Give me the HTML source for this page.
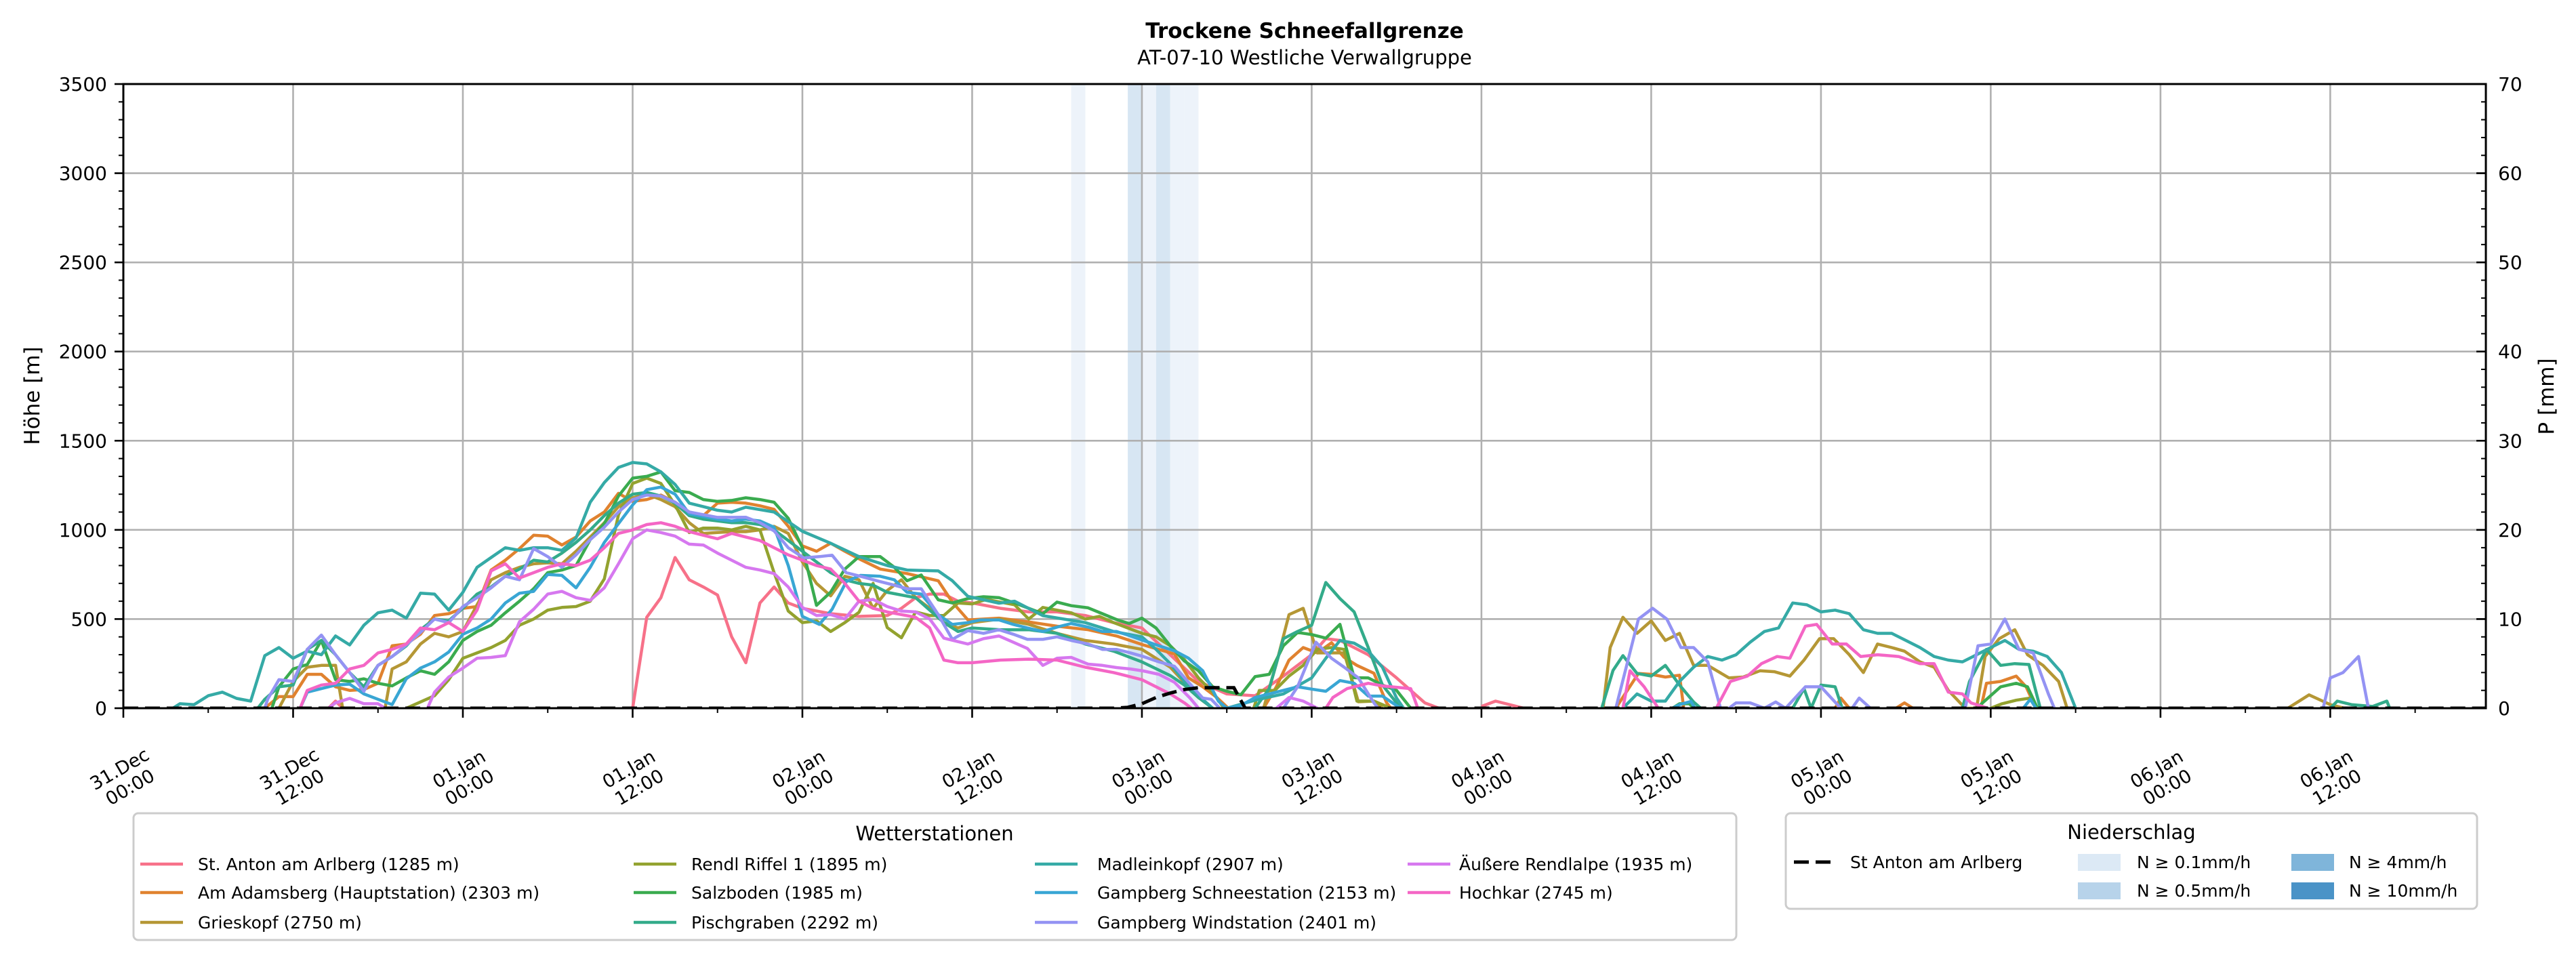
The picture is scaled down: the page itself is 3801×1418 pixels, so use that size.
<!DOCTYPE html>
<html><head><meta charset="utf-8"><style>
html,body{margin:0;padding:0;background:#fff;}
svg{display:block;font-family:"DejaVu Sans","Liberation Sans",sans-serif;}
</style></head><body>
<svg id="chart" width="3801" height="1418" viewBox="0 0 3801 1418" xmlns="http://www.w3.org/2000/svg">
<rect x="0" y="0" width="3801" height="1418" fill="#fff"/>
<g id="bands"></g>
<g id="grid"></g>
<g id="series"></g>
<g id="axes"></g>
<text x="1925" y="56" font-size="31" font-weight="bold" text-anchor="middle">Trockene Schneefallgrenze</text>
<text x="1925" y="95" font-size="29" text-anchor="middle">AT-07-10 Westliche Verwallgruppe</text>
<text transform="translate(58,584) rotate(-90)" font-size="31" text-anchor="middle">Höhe [m]</text>
<text transform="translate(3768,585) rotate(-90)" font-size="31" text-anchor="middle">P [mm]</text>
<g id="legend1"></g>
<g id="legend2"></g>
</svg>
<script>
const xTickHours = [0,12,24,36,48,60,72,84,96,108,120,132,144,156];
const xTickLabels1 = ["31.Dec","31.Dec","01.Jan","01.Jan","02.Jan","02.Jan","03.Jan","03.Jan","04.Jan","04.Jan","05.Jan","05.Jan","06.Jan","06.Jan"];
const xTickLabels2 = ["00:00","12:00","00:00","12:00","00:00","12:00","00:00","12:00","00:00","12:00","00:00","12:00","00:00","12:00"];
const yTicks = [0,500,1000,1500,2000,2500,3000,3500];
const y2Ticks = [0,10,20,30,40,50,60,70];
const precipBandHours = [67,71,72,73,74,75];
const precipBandIntensity = [0.1,0.5,0.1,0.5,0.1,0.1];
const precipCum = [[0,0],[70,0],[71,0.1],[72,0.5],[73,1.2],[74,1.7],[75,2.1],[76,2.3],[78.5,2.3],[79.3,0],[167,0]];

const stAnton = [[14.5,0],[15,40],[15.5,0],null,[36,0],[37,510],[38,620],[39,845],[40,720],[41,680],[42,635],[43,400],[44,255],[45,590],[46,680],[47,590],[48,560],[50,530],[52,515],[54,520],[55,560],[56,620],[57,640],[58,640],[59,600],[60,590],[62,560],[64,540],[66,540],[68,520],[70,480],[72,450],[74,300],[76,150],[78,80],[80,70],[82,180],[84,300],[85,390],[86,380],[88,300],[90,170],[92,30],[93,0],null,[96,10],[97,40],[99,0]];
const adamsberg = [[10,0],[11,65],[12,65],[13,190],[14,190],[15,120],[16,100],[17,105],[18,140],[19,350],[20,360],[21,415],[22,520],[23,530],[24,560],[25,570],[26,775],[27,830],[28,895],[29,970],[30,965],[31,915],[32,960],[33,1050],[34,1100],[35,1205],[36,1160],[37,1170],[38,1195],[39,1155],[40,1100],[41,1080],[42,1150],[43,1155],[44,1150],[45,1135],[46,1115],[47,1020],[48,910],[49,880],[50,925],[51,880],[52,838],[53.5,780],[55.4,755],[57.6,715],[58.6,595],[59.7,495],[61.9,505],[63.9,485],[66,460],[68.2,440],[70.2,405],[72.1,355],[74.3,304],[75.3,170],[76.3,120],[77.3,60],[78.1,0],null,[80.6,0],[81.5,120],[82.4,270],[83.4,340],[84.4,310],[85.4,367],[86.3,285],[87.2,240],[88.4,196],[89.3,30],[89.6,0],null,[105.5,0],[106,62],[107.1,195],[108,190],[109,175],[110,185],[110.3,0],null,[121,0],[121.4,57],[122,0],null,[125.3,0],[125.9,30],[126.5,0],null,[131.3,0],[131.7,140],[132.7,150],[133.8,180],[134.5,120],[135.2,0]];
const grieskopf = [[11,0],[12,150],[13,230],[14,240],[15,240],[15.5,0],null,[18.5,0],[19,220],[20,260],[21,360],[22,420],[23,400],[24,430],[25,580],[26,720],[27,760],[28,790],[29,810],[30,815],[31,810],[32,880],[33,960],[34,1040],[35,1130],[36,1180],[37,1200],[38,1170],[39,1130],[40,1040],[41,980],[42,985],[43,990],[44,990],[45,1000],[46,1020],[47,980],[48,820],[49,700],[50,630],[51,740],[52,720],[53,560],[54,660],[55,720],[56,620],[57,560],[58,480],[59,450],[60,480],[62,500],[64,470],[66,420],[68,380],[70,360],[72,330],[74,230],[76,60],[77,0],null,[80.6,0],[81.5,250],[82.4,525],[83.4,560],[84.4,310],[85.4,310],[86.3,310],[87.3,36],[88.4,40],[89,0],null,[104.6,0],[105.1,340],[106,510],[107,420],[108,490],[109,380],[110,420],[111,240],[112,240],[113.5,170],[114.5,175],[115.7,210],[116.7,205],[117.8,180],[118.8,270],[119.9,390],[120.9,390],[122,300],[123,200],[124,360],[125,340],[125.9,320],[127,260],[128,230],[129,100],[130.2,0],[131,0],[131.6,290],[132.6,390],[133.7,440],[134.6,300],[135.7,240],[136.8,150],[137.4,0],null,[153,0],[154.5,75],[156,20],[157,0]];
const rendl = [[20,0],[22,70],[23,160],[24,280],[25,310],[26,340],[27,380],[28,465],[29,500],[30,550],[31,565],[32,570],[33,600],[34,725],[35,1085],[36,1260],[37,1290],[38,1260],[39,1140],[40,985],[41,1010],[42,1010],[43,1000],[44,1020],[45,1000],[46,760],[47,545],[48,480],[49,490],[50,430],[51,480],[52,538],[53,700],[54,452],[55,395],[56,540],[57,520],[58,520],[59,590],[60,585],[61,610],[62,595],[63,580],[64,500],[65,565],[66,550],[67,535],[68,500],[69,515],[70,480],[71,450],[72,420],[73,400],[74,350],[75,273],[76,170],[77,90],[77.8,0],null,[79.9,0],[80.3,100],[81.4,100],[82.4,180],[83.4,240],[84.4,330],[85.4,340],[86.3,330],[87.2,40],[88.4,40],[89,20],[89.6,0],null,[132,0],[132.8,25],[133.8,45],[134.8,57],[135.3,0]];
const salzboden = [[10.5,0],[11,120],[12,220],[13,245],[14,380],[15,160],[16,150],[17,165],[18,140],[19,125],[20,170],[21,210],[22,190],[23,260],[24,380],[25,430],[26,465],[27,535],[28,600],[29,670],[30,760],[31,775],[32,800],[33,945],[34,1035],[35,1190],[36,1290],[37,1300],[38,1325],[39,1220],[40,1210],[41,1170],[42,1160],[43,1165],[44,1180],[45,1170],[46,1155],[47,1065],[48,900],[49,577],[50,651],[51,780],[52,850],[53.5,850],[54.5,790],[55.4,715],[56.4,747],[57.6,608],[58.6,590],[59.7,615],[60.8,625],[61.9,620],[63,590],[64,560],[65,530],[66,595],[67,575],[68.2,563],[69.2,530],[70.3,494],[71.1,475],[72,505],[73,450],[74,350],[75,265],[76,210],[77,120],[78,95],[79,76],[80,177],[81,190],[82,350],[83,425],[84,413],[85,393],[86,470],[87,171],[88,170],[89,130],[90,100],[91,0],null,[109.5,0],[110,25],[110.7,25],[111,0],null,[131,0],[132.7,120],[133.8,140],[134.6,120],[135.3,0]];
const pischgraben = [[9.5,0],[10,50],[11,120],[12,130],[13,330],[14,380],[15,300],[16,200],[17,120],[18,240],[19,290],[20,350],[21,440],[22,500],[23,490],[24,560],[25,640],[26,680],[27,740],[28,780],[29,830],[30,820],[31,870],[32,930],[33,1000],[34,1080],[35,1150],[36,1200],[37,1210],[38,1190],[39,1150],[40,1080],[41,1060],[42,1050],[43,1040],[44,1040],[45,1030],[46,1000],[47,940],[48,880],[49,820],[50,760],[51,720],[52,700],[53,690],[54,650],[56,620],[58,480],[59,430],[60,450],[62,440],[64,440],[66,420],[68,360],[70,320],[72,260],[74,183],[75,130],[76,60],[77,0],null,[80,0],[81,110],[82,390],[83,430],[84,465],[85,705],[86,615],[87,540],[88,340],[89,130],[90,30],[90.5,0],null,[104.5,0],[105.3,212],[106,295],[107,195],[108,180],[109,240],[110,130],[111,35],[111.5,0],null,[118,0],[118.8,110],[119.3,0],[120,130],[121,120],[121.5,0],null,[130,0],[130.5,150],[131.7,330],[132.7,240],[133.7,250],[134.7,245],[135.5,0],null,[156,0],[156.5,40],[157.5,20],[159,10],[160,40],[160.2,0]];
const madleinkopf = [[3.5,0],[4,25],[5,20],[6,70],[7,90],[8,55],[9,40],[10,295],[11,340],[12,280],[13,320],[14,300],[15,405],[16,355],[17,465],[18,535],[19,550],[20,505],[21,645],[22,640],[23,550],[24,650],[25,790],[26,845],[27,900],[28,885],[29,900],[30,900],[31,885],[32,955],[33,1155],[34,1265],[35,1350],[36,1378],[37,1370],[38,1325],[39,1255],[40,1150],[41,1130],[42,1110],[43,1100],[44,1127],[46,1100],[48,992],[50,925],[52,850],[54,800],[55.4,775],[57.6,770],[58.6,715],[59.7,627],[61.9,589],[63,600],[65,519],[68,480],[70,430],[72,400],[73,330],[74,250],[75,150],[76,70],[77,0],null,[78,0],[80,45],[82,80],[84,170],[85,280],[86,380],[87,365],[88,320],[89,230],[90,57],[90.5,0],null,[106,0],[107,80],[108,40],[109,40],[110,150],[111,230],[112,290],[113,270],[114,300],[115,370],[116,430],[117,450],[118,590],[119,580],[120,540],[121,550],[122,530],[123,440],[124,420],[125,420],[126,380],[127,340],[128,290],[129,270],[130,260],[131,300],[132,340],[133,380],[134,330],[135,320],[136,290],[137,200],[138,0]];
const gampbergSchnee = [[12.5,0],[13,90],[14,110],[15,130],[16,135],[17,80],[18,50],[19,20],[20,165],[21,225],[22,260],[23,315],[24,415],[25,450],[26,500],[27,590],[28,645],[29,655],[30,750],[31,745],[32,675],[33,790],[34,930],[35,1035],[36,1140],[37,1225],[38,1240],[39,1200],[40,1090],[41,1075],[42,1060],[43,1050],[44,1060],[45,1050],[46,1015],[47,800],[48,515],[49.2,470],[50.1,555],[51.1,710],[52.1,745],[53.5,740],[54.5,720],[55.4,650],[56.4,640],[57.6,525],[58.6,470],[59.7,480],[60.6,495],[61.9,495],[62.9,470],[63.9,450],[65,430],[66,455],[67,475],[68.2,455],[69.2,430],[70.2,430],[71.2,405],[72.1,380],[73.2,350],[74.3,322],[75.3,280],[76.3,210],[77.4,40],[78,0],[79,15],[80,60],[81,80],[82,100],[83,120],[84,107],[85,95],[86,155],[87,140],[88,68],[89,68],[90,15],[90.3,0],null,[109.5,0],[110,20],[110.8,38],[111.1,0],null,[134.3,0],[134.8,50],[135.2,0]];
const gampbergWind = [[10,0],[10.2,50],[11,160],[12,150],[13,330],[14,410],[15,300],[16,200],[17,95],[18,240],[19,290],[20,355],[21,425],[22,500],[23,480],[24,570],[25,620],[26,675],[27,740],[28,720],[29,895],[30,850],[31,790],[32,860],[33,945],[34,1015],[35,1100],[36,1170],[37,1195],[38,1190],[39,1155],[40,1100],[41,1085],[42,1070],[43,1070],[44,1071],[45,1040],[46,994],[47,900],[48.1,843],[49.2,850],[50.1,858],[51.1,760],[52.1,740],[53.5,710],[54.5,690],[55.4,670],[56.4,670],[57.6,525],[58.6,386],[59.7,435],[60.8,420],[61.9,440],[62.9,415],[63.9,386],[65,386],[66,400],[67,380],[68.2,360],[69.2,330],[70.2,330],[71.2,310],[72.1,290],[73.2,260],[74.3,235],[75.3,145],[76.3,57],[76.9,50],[77.5,0],null,[82,0],[83,120],[84.3,370],[85.4,280],[86.3,230],[87.3,170],[88.4,30],[88.7,0],null,[105.5,0],[107.1,500],[108.1,560],[109.1,500],[110.1,340],[111,340],[112,260],[112.9,0],null,[113.5,0],[114,30],[115,30],[116,0],[116.8,35],[117.5,0],[118.9,120],[120,120],[121.4,0],null,[122.2,0],[122.7,57],[123.5,0],null,[130.2,0],[131.1,350],[132,360],[133,500],[134,330],[135,310],[136.1,75],[136.5,0],null,[155.5,0],[156,170],[156.9,200],[158,290],[158.7,0]];
const aeussere = [[14.5,0],[15,30],[16,55],[17,25],[18,25],[18.5,0],null,[21.5,0],[22,90],[23,175],[24,225],[25,280],[26,285],[27,295],[28,485],[29,555],[30,640],[31,655],[32,620],[33,605],[34,675],[35,810],[36,950],[37,1000],[38,985],[39,965],[40,920],[41,915],[42,870],[43,830],[44,790],[45,775],[46,755],[47,680],[48,565],[49,520],[50,525],[51,500],[52,600],[53,610],[54,570],[55,545],[56,540],[57,500],[58,393],[59.7,360],[60.8,390],[61.9,405],[62.9,370],[63.9,335],[65,240],[66,280],[67,285],[68.2,247],[69.2,240],[70.2,228],[71.2,220],[72.1,209],[73.2,190],[74.3,145],[75.4,57],[76,0],null,[81.5,0],[82.4,60],[83.4,40],[84.4,0]];
const hochkar = [[12.5,0],[13,100],[14,130],[15,140],[16,220],[17,240],[18,310],[19,330],[20,360],[21,450],[22,440],[23,480],[24,430],[25,550],[26,770],[27,810],[28,730],[29,760],[30,790],[31,810],[32,800],[33,830],[34,900],[35,980],[36,1000],[37,1030],[38,1040],[39,1020],[40,990],[41,970],[42,950],[43,980],[44,960],[45,940],[46,900],[47,860],[48,830],[49,800],[50,780],[51,700],[52,600],[53,560],[54,540],[56,510],[57,450],[58,270],[59,255],[60,255],[62,270],[64,275],[66,270],[68,230],[70,200],[72,160],[74,80],[75,30],[75.5,0],null,[85,0],[85.5,60],[86.5,110],[88,140],[89,125],[91,110],[91.5,0],null,[106,0],[106.5,210],[107.5,120],[108.5,0],null,[112.6,0],[113.6,150],[114.8,180],[115.8,250],[116.9,290],[117.8,280],[118.9,460],[119.7,470],[120.8,360],[121.8,360],[122.8,290],[124,300],[125.5,290],[127,250],[128,250],[129,90],[130,80],[130.6,30],[131.8,0]];

const stationNames = ["St. Anton am Arlberg (1285 m)","Am Adamsberg (Hauptstation) (2303 m)","Grieskopf (2750 m)","Rendl Riffel 1 (1895 m)","Salzboden (1985 m)","Pischgraben (2292 m)","Madleinkopf (2907 m)","Gampberg Schneestation (2153 m)","Gampberg Windstation (2401 m)","Äußere Rendlalpe (1935 m)","Hochkar (2745 m)"];
const stationColors = ["#f77189","#e0822f","#b59735","#93a22f","#3aab4f","#33ab8a","#35aaa6","#39a6d4","#9493f3","#d678ef","#f466c5"];
const stationData = [stAnton,adamsberg,grieskopf,rendl,salzboden,pischgraben,madleinkopf,gampbergSchnee,gampbergWind,aeussere,hochkar];

const NS = "http://www.w3.org/2000/svg";
const X0 = 182, X1 = 3668, Y0 = 1045, Y1 = 124, HMAX = 167;
const xS = h => X0 + h * (X1 - X0) / HMAX;
const yS = v => Y0 - v * (Y0 - Y1) / 3500;
const yP = p => Y0 - p * (Y0 - Y1) / 70;
function mk(tag, attrs, parent) {
  const e = document.createElementNS(NS, tag);
  for (const k in attrs) e.setAttribute(k, attrs[k]);
  parent.appendChild(e);
  return e;
}
const bands = document.getElementById("bands");
const grid = document.getElementById("grid");
const series = document.getElementById("series");
const axes = document.getElementById("axes");
const bandColor = i => i >= 10 ? "#4a93c7" : i >= 4 ? "#7fb5da" : i >= 0.5 ? "#d7e6f3" : "#edf3fa";

precipBandHours.forEach((h, i) => {
  const r = mk("rect", {x: xS(h), y: Y1, width: xS(h + 1) - xS(h), height: Y0 - Y1, fill: bandColor(precipBandIntensity[i])}, bands);
  
  
});

xTickHours.forEach(h => {
  const l = mk("line", {x1: xS(h), x2: xS(h), y1: Y1, y2: Y0, stroke: "#b0b0b0", "stroke-width": 2.6}, grid);
  
  
});
yTicks.forEach(v => {
  const l = mk("line", {x1: X0, x2: X1, y1: yS(v), y2: yS(v), stroke: "#b0b0b0", "stroke-width": 2.6}, grid);
  
  
});

const clip = mk("clipPath", {id: "plotclip"}, document.getElementById("chart"));
mk("rect", {x: X0, y: Y1 - 2, width: X1 - X0, height: Y0 - Y1 + 2}, clip);
series.setAttribute("clip-path", "url(#plotclip)");

function pathFrom(pts, fy) {
  let d = "", pen = false;
  pts.forEach(p => {
    if (p === null) { pen = false; return; }
    d += (pen ? "L" : "M") + xS(p[0]).toFixed(1) + " " + fy(p[1]).toFixed(1) + " ";
    pen = true;
  });
  return d;
}
stationData.forEach((pts, i) => {
  const p = mk("path", {d: pathFrom(pts, yS), fill: "none", stroke: stationColors[i], "stroke-width": 4.5, "stroke-linejoin": "round"}, series);
  
  
});
const pl = mk("path", {d: pathFrom(precipCum, yP), fill: "none", stroke: "#000", "stroke-width": 5, "stroke-dasharray": "22 10"}, series);



mk("rect", {x: X0, y: Y1, width: X1 - X0, height: Y0 - Y1, fill: "none", stroke: "#000", "stroke-width": 3}, axes);
yTicks.forEach(v => {
  mk("line", {x1: X0 - 13, x2: X0, y1: yS(v), y2: yS(v), stroke: "#000", "stroke-width": 2.6}, axes);
  const t = mk("text", {x: X0 - 24, y: yS(v) + 10, "font-size": 28, "text-anchor": "end"}, axes);
  t.textContent = v;
  
  
});
for (let v = 0; v <= 3500; v += 100) {
  if (v % 500) mk("line", {x1: X0 - 7, x2: X0, y1: yS(v), y2: yS(v), stroke: "#000", "stroke-width": 2}, axes);
}
y2Ticks.forEach(p => {
  mk("line", {x1: X1 - 14, x2: X1, y1: yP(p), y2: yP(p), stroke: "#000", "stroke-width": 2.6}, axes);
  const t = mk("text", {x: X1 + 18, y: yP(p) + 10, "font-size": 28}, axes);
  t.textContent = p;
  
  
});
for (let p = 0; p <= 70; p += 2) {
  if (p % 10) mk("line", {x1: X1 - 7, x2: X1, y1: yP(p), y2: yP(p), stroke: "#000", "stroke-width": 2}, axes);
}
xTickHours.forEach((h, i) => {
  mk("line", {x1: xS(h), x2: xS(h), y1: Y0, y2: Y0 + 14, stroke: "#000", "stroke-width": 2.6}, axes);
  mk("line", {x1: xS(h + 6), x2: xS(h + 6), y1: Y0, y2: Y0 + 7, stroke: "#000", "stroke-width": 2}, axes);
  const g = mk("g", {transform: "translate(" + (xS(h) + 2) + ",1148) rotate(-30)"}, axes);
  
  
  const t1 = mk("text", {x: 0, y: -6, "font-size": 27, "text-anchor": "middle"}, g);
  t1.textContent = xTickLabels1[i];
  const t2 = mk("text", {x: 0, y: 25, "font-size": 27, "text-anchor": "middle"}, g);
  t2.textContent = xTickLabels2[i];
});

const lg1 = document.getElementById("legend1");
mk("rect", {x: 197, y: 1200, width: 2365, height: 187, rx: 7, fill: "#fff", stroke: "#cccccc", "stroke-width": 3}, lg1);
const lt1 = mk("text", {x: 1379, y: 1240, "font-size": 29, "text-anchor": "middle"}, lg1);
lt1.textContent = "Wetterstationen";


const colLine = [207, 935, 1527, 2077];
const colText = [292, 1020, 1619, 2153];
const rowY = [1275, 1317, 1361];
stationNames.forEach((n, i) => {
  const c = Math.floor(i / 3), r = i % 3;
  const g = mk("g", {}, lg1);
  
  
  mk("line", {x1: colLine[c], x2: colLine[c] + 63, y1: rowY[r], y2: rowY[r], stroke: stationColors[i], "stroke-width": 4.5}, g);
  const t = mk("text", {x: colText[c], y: rowY[r] + 9, "font-size": 25}, g);
  t.textContent = n;
});

const lg2 = document.getElementById("legend2");
mk("rect", {x: 2635, y: 1200, width: 1020, height: 141, rx: 7, fill: "#fff", stroke: "#cccccc", "stroke-width": 3}, lg2);
const lt2 = mk("text", {x: 3145, y: 1238, "font-size": 29, "text-anchor": "middle"}, lg2);
lt2.textContent = "Niederschlag";


const g0 = mk("g", {}, lg2);


mk("line", {x1: 2647, x2: 2703, y1: 1272, y2: 1272, stroke: "#000", "stroke-width": 5, "stroke-dasharray": "22 10"}, g0);
const t0 = mk("text", {x: 2730, y: 1281, "font-size": 25}, g0);
t0.textContent = "St Anton am Arlberg";
const patchLabels = ["N ≥ 0.1mm/h","N ≥ 0.5mm/h","N ≥ 4mm/h","N ≥ 10mm/h"];
const patchColors = ["#dce9f5","#b7d3ea","#7fb5da","#4a93c7"];
const patchX = [3066, 3066, 3381, 3381];
const patchTX = [3153, 3153, 3466, 3466];
const patchY = [1272, 1314, 1272, 1314];
patchLabels.forEach((l, i) => {
  const g = mk("g", {}, lg2);
  
  
  mk("rect", {x: patchX[i], y: patchY[i] - 12, width: 63, height: 25, fill: patchColors[i]}, g);
  const t = mk("text", {x: patchTX[i], y: patchY[i] + 9, "font-size": 25}, g);
  t.textContent = l;
});
</script>
</body></html>
